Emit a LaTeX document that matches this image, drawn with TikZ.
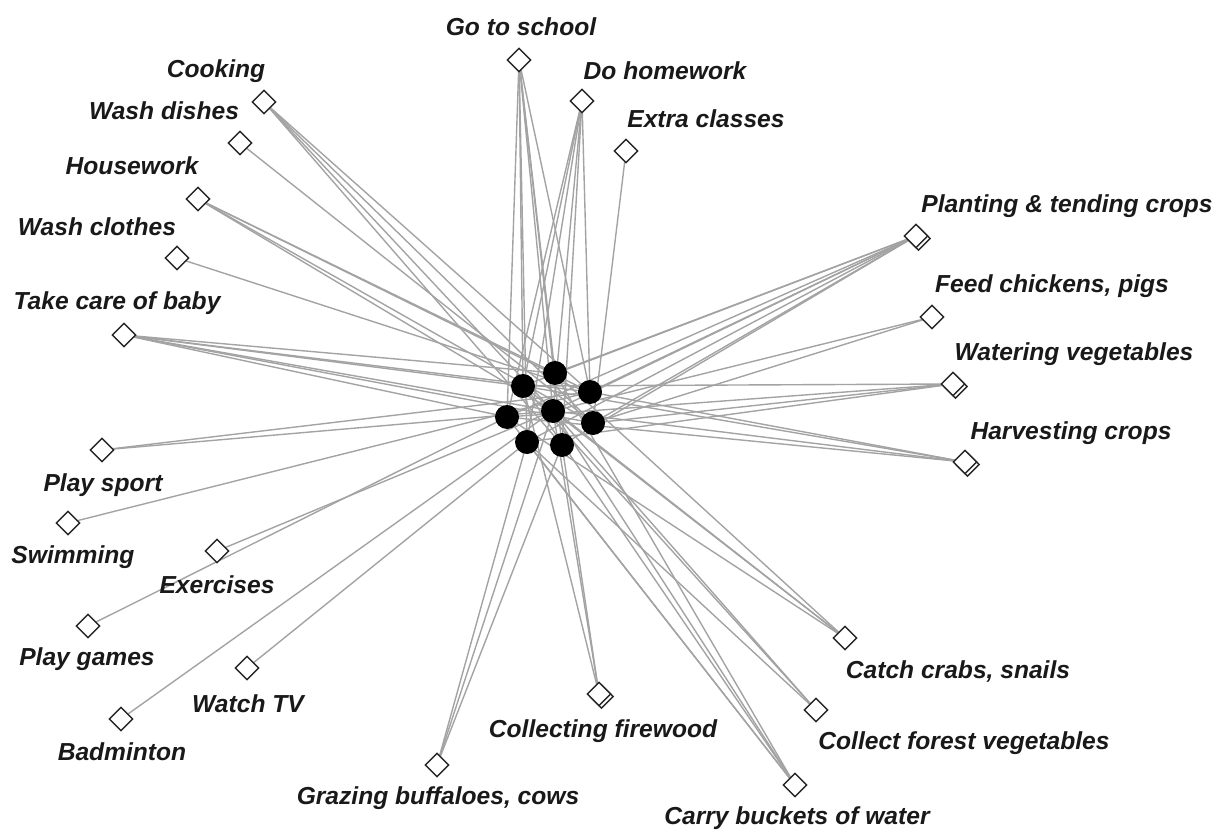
\documentclass[tikz,border=0pt]{standalone}
\usepackage{fontspec}
\setmainfont{Liberation Sans}
\usetikzlibrary{shapes.geometric}
\begin{document}
\begin{tikzpicture}[x=1pt,y=-1pt,
  tie/.style={draw=gray!72,line width=1.4pt},
  actor/.style={circle,fill=black,minimum size=24pt,inner sep=0pt},
  task/.style={diamond,draw=black!85,fill=white,line width=1.4pt,minimum width=24pt,minimum height=24pt,inner sep=0pt},
  lbl/.style={font=\fontsize{24.6}{28}\selectfont\bfseries\itshape,text=black!90,inner sep=0pt}]
\useasboundingbox (0,0) rectangle (1218,834);

% children (actors)
\coordinate (A) at (555,373);
\coordinate (B) at (523,386);
\coordinate (C) at (590,392);
\coordinate (D) at (553,411);
\coordinate (E) at (507,417);
\coordinate (F) at (593,423);
\coordinate (G) at (527,442);
\coordinate (H) at (562,445);

% activities
\coordinate (school) at (519,60);
\coordinate (homework) at (582,101);
\coordinate (extra) at (626,151);
\coordinate (cooking) at (264,102);
\coordinate (dishes) at (240,143);
\coordinate (housework) at (198,199);
\coordinate (clothes) at (177,258);
\coordinate (baby) at (124,335);
\coordinate (sport) at (102,450);
\coordinate (swim) at (68,523);
\coordinate (exercise) at (217,551);
\coordinate (games) at (88,626);
\coordinate (tv) at (247,668);
\coordinate (badminton) at (121,719);
\coordinate (grazing) at (437,765);
\coordinate (firewood) at (599,694);
\coordinate (water) at (795,785);
\coordinate (forest) at (816,710);
\coordinate (crabs) at (845,638);
\coordinate (harvest) at (965,462);
\coordinate (watering) at (953,384);
\coordinate (feed) at (932,317);
\coordinate (planting) at (916,236);

% ties between activities and children
\foreach \a/\list in {
  school/{A,B,C,D,E,G,H},
  homework/{B,C,D,E,G,H},
  extra/{F},
  cooking/{C,D,F,H},
  dishes/{F},
  housework/{A,C,D,F},
  clothes/{C},
  baby/{A,B,C,D,E,F},
  sport/{C,D},
  swim/{C},
  exercise/{D},
  games/{E},
  tv/{G},
  badminton/{D},
  grazing/{D,G,H},
  firewood/{B,D,H},
  water/{A,B,D,E,G},
  forest/{B,D,G},
  crabs/{A,B,D,E},
  harvest/{B,C,D,E},
  watering/{B,E,F,G},
  feed/{D,F},
  planting/{A,B,C,D,E,F,G,H}}
  {\foreach \c in \list {\draw[tie] (\a) -- (\c);}}

% children drawn over the ties
\foreach \c in {A,B,C,D,E,F,G,H} {\node[actor] (n\c) at (\c) {};}

% activity markers (doubled where several overlap)
\foreach \a in {planting,watering,harvest,firewood} {\node[task] at ([shift={(2.5,2.5)}]\a) {};}
\foreach \a in {school,homework,extra,cooking,dishes,housework,clothes,baby,sport,swim,exercise,games,tv,badminton,grazing,firewood,water,forest,crabs,harvest,watering,feed,planting}
  {\node[task] (d\a) at (\a) {};}

% labels
\node[lbl] (tschool) at (521,27) {Go to school};
\node[lbl] (thomework) at (665,71) {Do homework};
\node[lbl] (textra) at (706,119) {Extra classes};
\node[lbl] (tcooking) at (216,71) {Cooking};
\node[lbl] (tdishes) at (164,111) {Wash dishes};
\node[lbl] (thousework) at (132,166) {Housework};
\node[lbl] (tclothes) at (97,227) {Wash clothes};
\node[lbl] (tbaby) at (117,303) {Take care of baby};
\node[lbl] (tplanting) at (1067,206) {Planting \& tending crops};
\node[lbl] (tfeed) at (1052,286) {Feed chickens, pigs};
\node[lbl] (twatering) at (1074,354) {Watering vegetables};
\node[lbl] (tharvest) at (1071,433) {Harvesting crops};
\node[lbl] (tsport) at (103,485) {Play sport};
\node[lbl] (tswim) at (73,557) {Swimming};
\node[lbl] (texercise) at (217,585) {Exercises};
\node[lbl] (tgames) at (87,659) {Play games};
\node[lbl] (ttv) at (248,704) {Watch TV};
\node[lbl] (tbadminton) at (122,752) {Badminton};
\node[lbl] (tfirewood) at (603,731) {Collecting firewood};
\node[lbl] (tcrabs) at (958,671) {Catch crabs, snails};
\node[lbl] (tforest) at (964,743) {Collect forest vegetables};
\node[lbl] (tgrazing) at (438,798) {Grazing buffaloes, cows};
\node[lbl] (twater) at (797,818) {Carry buckets of water};
\end{tikzpicture}
\end{document}
